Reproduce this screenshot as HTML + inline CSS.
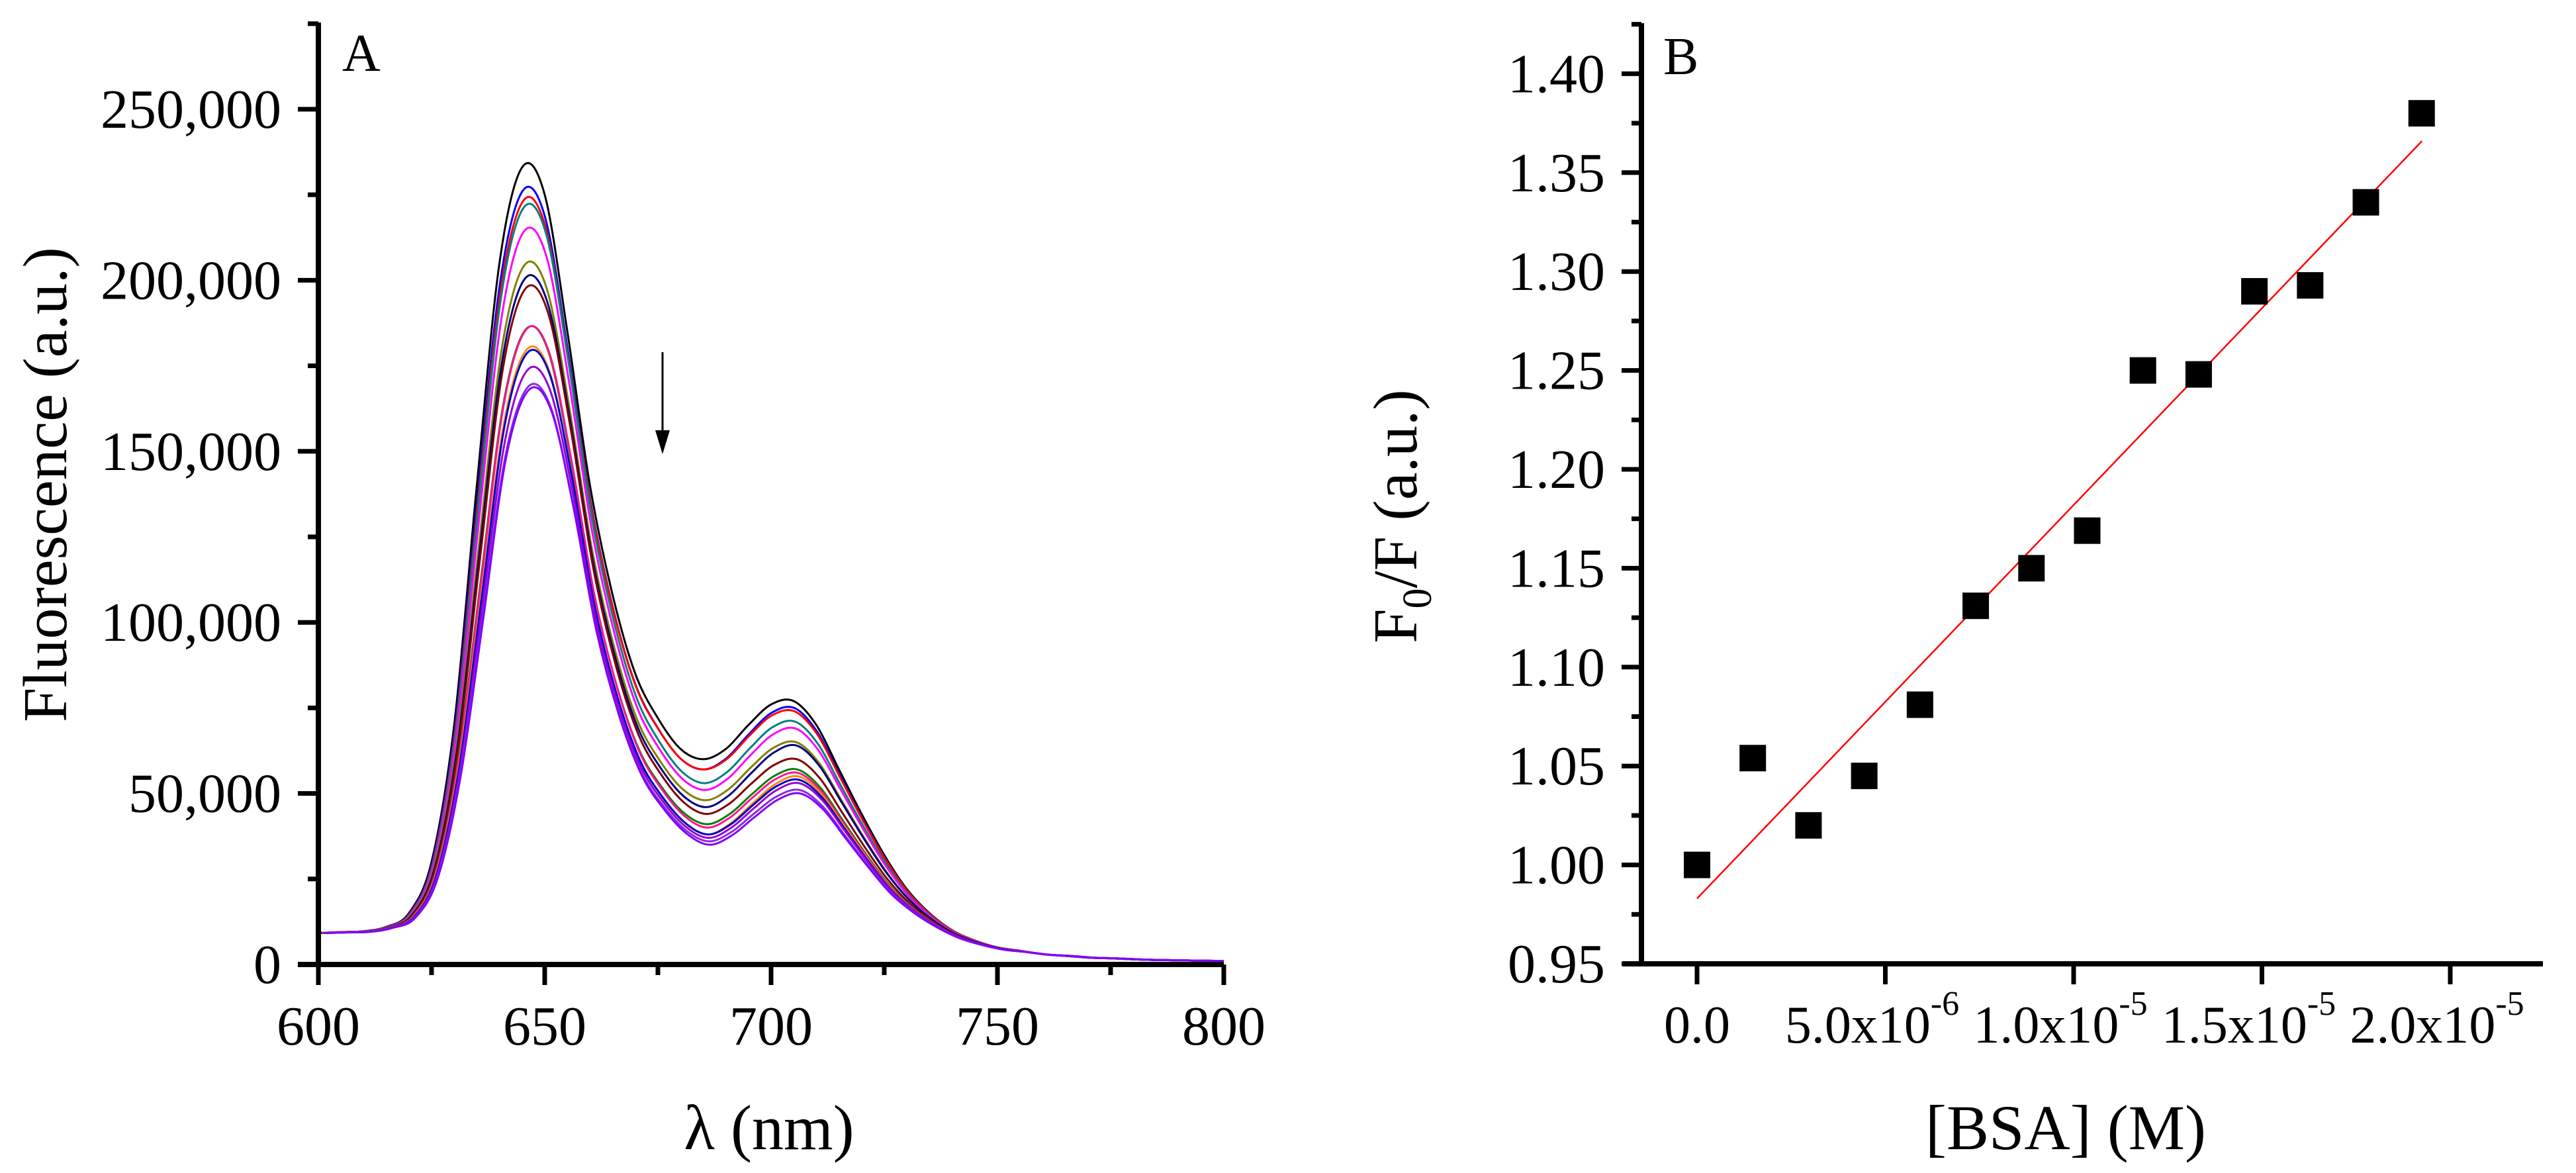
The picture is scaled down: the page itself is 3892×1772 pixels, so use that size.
<!DOCTYPE html>
<html><head><meta charset="utf-8">
<style>
html,body{margin:0;padding:0;background:#fff;}
svg{display:block;}
text{font-family:"Liberation Serif","Times New Roman",serif;fill:#000;}
</style></head>
<body>
<svg id="fig" width="3892" height="1772" viewBox="0 0 3892 1772" xmlns="http://www.w3.org/2000/svg">
<g id="pa"></g>
<g id="pb"></g>
</svg>
<script>
// ---- Panel A data ----
const wavelengths = [600,605,610,615,620,625,630,635,640,645,650,655,660,665,670,675,680,685,690,695,700,705,710,715,720,725,730,735,740,745,750,755,760,765,770,775,780,785,790,795,800];
const topSpectrum = [10,10,10,11,15,30,70,140,205,233,225,185,140,108,85,72,63,60,63,70,76,77,70,57,44,32,22,15,10,7,5,4,3,2.5,2,1.8,1.5,1.3,1.2,1.1,1]; // thousands
const peak1 = [236,229,226,224,217,207,203,200,188,188,182,181,176,171,170];
const valley = [60,57,57,53,51,48,46,44,41,40,38,38,37,36,35];
const peak2 = [77,75,74,71,69,65,64,60,57,56,55,54,53,51,50];
const seriesColors = ["#000000","#0000ff","#ff0000","#008080","#ff00ff","#808000","#000080","#800000","#008000","#ff1493","#ff8c00","#0000cd","#9400d3","#8a2be2","#8000ff"];
const aYTicks = [0,50000,100000,150000,200000,250000];
const aYTickLabels = ["0","50,000","100,000","150,000","200,000","250,000"];
const aXTicks = [600,650,700,750,800];
// ---- Panel B data ----
const bsaConc = [0,1.48e-6,2.96e-6,4.44e-6,5.92e-6,7.40e-6,8.88e-6,1.036e-5,1.184e-5,1.332e-5,1.48e-5,1.628e-5,1.776e-5,1.924e-5];
const f0f = [1.000,1.054,1.020,1.045,1.081,1.131,1.150,1.169,1.250,1.248,1.290,1.293,1.335,1.380];
const fitX = [0,1.925e-5];
const fitY = [0.983,1.366];
const bYTicks = [0.95,1.00,1.05,1.10,1.15,1.20,1.25,1.30,1.35,1.40];
const bYTickLabels = ["0.95","1.00","1.05","1.10","1.15","1.20","1.25","1.30","1.35","1.40"];
const bXTicks = [0,5e-6,1e-5,1.5e-5,2e-5];
const bXTickMant = ["0.0","5.0x10","1.0x10","1.5x10","2.0x10"];
const bXTickExp = ["","-6","-5","-5","-5"];

const NS="http://www.w3.org/2000/svg";
function mk(parent,tag,attrs,txt){const e=document.createElementNS(NS,tag);for(const k in attrs)e.setAttribute(k,attrs[k]);if(txt!==undefined)e.textContent=txt;parent.appendChild(e);return e;}
function lerpAnchors(w,ws,vs){if(w<=ws[0])return vs[0];for(let i=1;i<ws.length;i++){if(w<=ws[i]){const t=(w-ws[i-1])/(ws[i]-ws[i-1]);return vs[i-1]*(1-t)+vs[i]*t;}}return vs[vs.length-1];}
function smoothPath(pts){let d="M"+pts[0][0].toFixed(1)+","+pts[0][1].toFixed(1);for(let i=0;i<pts.length-1;i++){const p0=pts[Math.max(0,i-1)],p1=pts[i],p2=pts[i+1],p3=pts[Math.min(pts.length-1,i+2)];const c1x=p1[0]+(p2[0]-p0[0])/6,c1y=p1[1]+(p2[1]-p0[1])/6,c2x=p2[0]-(p3[0]-p1[0])/6,c2y=p2[1]-(p3[1]-p1[1])/6;d+="C"+c1x.toFixed(1)+","+c1y.toFixed(1)+" "+c2x.toFixed(1)+","+c2y.toFixed(1)+" "+p2[0].toFixed(1)+","+p2[1].toFixed(1);}return d;}

const ax=v=>481+(v-600)*(1368/200);
const ay=v=>1457-v*(258.4/50000);
const pa=document.getElementById('pa');
for(let s=0;s<peak1.length;s++){
  const r1=peak1[s]/236, rv=valley[s]/60, r2=peak2[s]/77;
  const shift=s*0.1;
  const pts=wavelengths.map((w,i)=>{
    const f=lerpAnchors(w,[600,615,635,655,685,705,725,765],[0.92,0.9+0.1*r1,r1,r1,rv,r2,r2,1]);
    return [ax(Math.min(800,w+shift)),ay(topSpectrum[i]*1000*f)];
  });
  const p=mk(pa,'path',{d:smoothPath(pts),fill:'none',stroke:seriesColors[s],'stroke-width':3,'stroke-linejoin':'round'});
  
  
}
let e;
e=mk(pa,'line',{x1:481,y1:34,x2:481,y2:1461,stroke:'#000','stroke-width':8});

e=mk(pa,'line',{x1:450,y1:1457,x2:1849,y2:1457,stroke:'#000','stroke-width':8});

for(let v=0;v<=275000;v+=25000){
  const major=v%50000===0;
  mk(pa,'line',{x1:major?450:465,y1:ay(v),x2:481,y2:ay(v),stroke:'#000','stroke-width':7});
}
aYTicks.forEach((v,i)=>{
  e=mk(pa,'text',{x:425,y:ay(v)+28,'font-size':84,'text-anchor':'end'},aYTickLabels[i]);
  
});
for(let w=600;w<=800;w+=25){
  const major=w%50===0;
  mk(pa,'line',{x1:ax(w),y1:1457,x2:ax(w),y2:major?1488:1473,stroke:'#000','stroke-width':7});
}
aXTicks.forEach(v=>{
  e=mk(pa,'text',{x:ax(v),y:1578,'font-size':84,'text-anchor':'middle'},String(v));
  
});
e=mk(pa,'text',{x:517,y:107,'font-size':80},'A');

e=mk(pa,'text',{x:1162,y:1736,'font-size':96,'text-anchor':'middle'},'λ (nm)');

e=mk(pa,'text',{x:0,y:0,'font-size':94,'text-anchor':'middle',transform:'translate(100,732) rotate(-90)'},'Fluorescence (a.u.)');

e=mk(pa,'line',{x1:1001,y1:532,x2:1001,y2:660,stroke:'#000','stroke-width':3});

mk(pa,'polygon',{points:'990,650 1012,650 1001,686',fill:'#000'});

const bx=v=>2564+v*(284.5/5e-6);
const by=v=>1456-(v-0.95)*(149.4/0.05);
const pb=document.getElementById('pb');
e=mk(pb,'line',{x1:2480,y1:35,x2:2480,y2:1460,stroke:'#000','stroke-width':8});

e=mk(pb,'line',{x1:2452,y1:1456,x2:3842,y2:1456,stroke:'#000','stroke-width':8});

for(let k=0;k<=19;k++){
  const v=0.95+k*0.025, major=k%2===0;
  mk(pb,'line',{x1:major?2450:2465,y1:by(v),x2:2480,y2:by(v),stroke:'#000','stroke-width':7});
}
bYTicks.forEach((v,i)=>{
  e=mk(pb,'text',{x:2425,y:by(v)+28,'font-size':84,'text-anchor':'end'},bYTickLabels[i]);
  
});
bXTicks.forEach((v,i)=>{
  mk(pb,'line',{x1:bx(v),y1:1456,x2:bx(v),y2:1487,stroke:'#000','stroke-width':7});
  const t=mk(pb,'text',{x:bx(v)+(i?-20:0),y:1575,'font-size':80,'text-anchor':'middle'});
  
  mk(t,'tspan',{},bXTickMant[i]);
  if(bXTickExp[i]) mk(t,'tspan',{dy:-42,'font-size':52},bXTickExp[i]);
});
e=mk(pb,'line',{x1:bx(fitX[0]),y1:by(fitY[0]),x2:bx(fitX[1]),y2:by(fitY[1]),stroke:'#ff0000','stroke-width':2.5});

bsaConc.forEach((c,i)=>{
  const r=mk(pb,'rect',{x:bx(c)-20,y:by(f0f[i])-20,width:40,height:40,fill:'#000'});
  
  
});
e=mk(pb,'text',{x:2513,y:112,'font-size':80},'B');

e=mk(pb,'text',{x:3121,y:1736,'font-size':96,'text-anchor':'middle'},'[BSA] (M)');

const yt=mk(pb,'text',{x:0,y:0,'font-size':94,'text-anchor':'middle',transform:'translate(2140,780) rotate(-90)'});

mk(yt,'tspan',{},'F');
mk(yt,'tspan',{dy:22,'font-size':62},'0');
mk(yt,'tspan',{dy:-22},'/F (a.u.)');
</script>
</body></html>
